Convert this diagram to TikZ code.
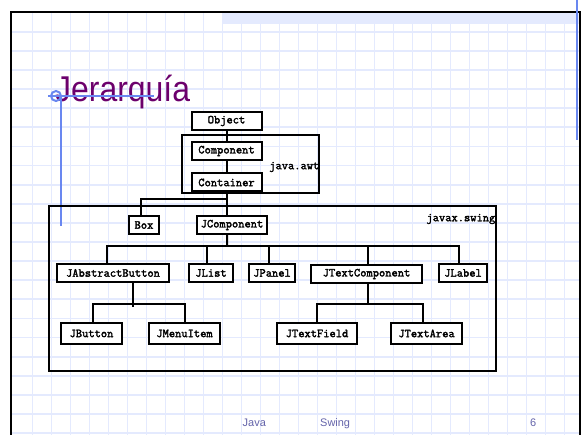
\documentclass[tikz,border=0pt]{standalone}
\usepackage{fontspec}
\usepackage{graphicx}
\newfontfamily\titlefont{Liberation Sans}
\newfontfamily\boxfont[FakeBold=2.2]{Latin Modern Mono}
\definecolor{gridc}{RGB}{228,234,254}
\definecolor{bandc}{RGB}{228,234,254}
\definecolor{titlec}{RGB}{108,0,108}
\definecolor{bluec}{RGB}{105,135,240}
\definecolor{footc}{RGB}{100,100,170}
\tikzset{
  cls/.style={draw=black, line width=2bp, fill=white, minimum height=18bp, inner sep=0pt,
    font=\boxfont\fontsize{12.2}{12}\selectfont},
  lowcls/.style={cls, minimum height=21bp},
  conn/.style={draw=black, line width=2bp},
  pkg/.style={draw=black, line width=2bp, inner sep=0pt},
  pkglabel/.style={inner sep=0pt, font=\boxfont\fontsize{12.2}{12}\selectfont},
  gridline/.style={draw=gridc, line width=1.8bp},
  blueline/.style={draw=bluec, line width=2bp},
  foot/.style={inner sep=0pt, text=footc, font=\titlefont\fontsize{11}{12}\selectfont},
  frame/.style={draw=black, line width=1.8bp}
}
\begin{document}
\begin{tikzpicture}[x=1bp,y=-1bp]
\useasboundingbox[fill=white] (0,0) rectangle (582,435);
% grid
\foreach \k in {0,...,28} \draw[gridline] ({32.5+19*\k},12) -- ({32.5+19*\k},435);
\foreach \k in {1,...,22} \draw[gridline] (11,{12.8+19.1*\k}) -- (580,{12.8+19.1*\k});
% top band
\fill[bandc] (222,13) rectangle (579,24);
% slide frame
\draw[frame] (11,435) -- (11,12) -- (580,12) -- (580,435);
% title
\node[anchor=base west, inner sep=0pt, text=titlec] (title) at (55,102)
  {\scalebox{0.89}[1]{\titlefont\fontsize{36}{36}\selectfont Jerarquía}};
% blue decorations
\draw[blueline] (48,96) -- (154,96);
\draw[blueline] (56,96) circle (5);
\draw[blueline] (60.5,97) -- (60.5,226);
\draw[blueline] (576.5,0) -- (576.5,140);
% packages
\node[pkg, minimum width=137bp, minimum height=58bp] (awt) at (250.5,164) {};
\node[pkglabel, anchor=east] (awtlabel) at (319.5,167) {java.awt};
\node[pkg, minimum width=447bp, minimum height=165bp] (swing) at (272.5,288.5) {};
\node[pkglabel, anchor=east] (swinglabel) at (495.5,219) {javax.swing};
% classes
\node[cls, minimum width=70bp] (object) at (226.5,121) {Object};
\node[cls, minimum width=70bp] (component) at (226.5,151) {Component};
\node[cls, minimum width=70bp] (container) at (226.5,182.5) {Container};
\node[cls, minimum width=30bp] (box) at (144,225) {Box};
\node[cls, minimum width=70bp] (jcomp) at (232,225) {JComponent};
\node[cls, minimum width=112bp] (jab) at (113,273) {JAbstractButton};
\node[cls, minimum width=44bp] (jlist) at (211,273) {JList};
\node[cls, minimum width=46bp] (jpanel) at (272,273) {JPanel};
\node[cls, minimum width=111bp] (jtc) at (366.5,274) {JTextComponent};
\node[cls, minimum width=48bp] (jlabel) at (463,273) {JLabel};
\node[lowcls, minimum width=61bp] (jbutton) at (91.5,333.5) {JButton};
\node[lowcls, minimum width=71bp] (jmenu) at (184.5,333.5) {JMenuItem};
\node[lowcls, minimum width=80bp] (jtf) at (317,333.5) {JTextField};
\node[lowcls, minimum width=71bp] (jta) at (426.5,333.5) {JTextArea};
% connectors
\draw[conn] (object) -- (component);
\draw[conn] (component) -- (container);
\draw[conn] (container.south) -- (container.south |- jcomp.north);
\coordinate (bus0) at (226.5,199);
\draw[conn] ([xshift=-3bp]box.north) |- (bus0);
\coordinate (bus1) at (227,246);
\draw[conn] ([xshift=-5bp]jcomp.south) -- (bus1);
\draw[conn] ([xshift=-6.3bp]jab.north) |- (bus1);
\draw[conn] ([xshift=-3.7bp]jlist.north) |- (bus1);
\draw[conn] ([xshift=-2.7bp]jpanel.north) |- (bus1);
\draw[conn] ([xshift=1.2bp]jtc.north) |- (bus1);
\draw[conn] ([xshift=-3.7bp]jlabel.north) |- (bus1);
\coordinate (bus2) at (133.3,304);
\draw[conn] ([xshift=20.3bp]jab.south) -- ++(0,24);
\draw[conn] ([xshift=1.2bp]jbutton.north) |- (bus2);
\draw[conn] (jmenu.north) |- (bus2);
\coordinate (bus3) at (367.7,304);
\draw[conn] ([xshift=1.2bp]jtc.south) -- (bus3);
\draw[conn] (jtf.north) |- (bus3);
\draw[conn] ([xshift=-3.2bp]jta.north) |- (bus3);
% footer
\node[foot, anchor=base west] (f1) at (242.5,426.5) {Java};
\node[foot, anchor=base west] (f2) at (320,426.5) {Swing};
\node[foot, anchor=base west] (f3) at (530,426.5) {6};
\end{tikzpicture}
\end{document}
